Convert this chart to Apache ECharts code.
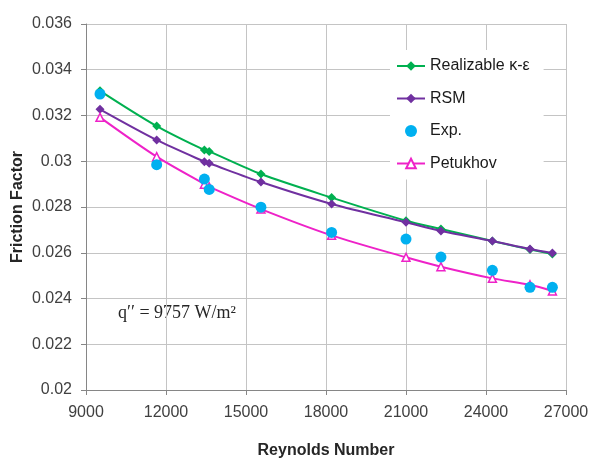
<!DOCTYPE html>
<html>
<head>
<meta charset="utf-8">
<script src="https://cdn.jsdelivr.net/npm/echarts@6/dist/echarts.min.js"></script>
<style>html,body{margin:0;padding:0;background:#fff;}#c{width:590px;height:459px;}</style>
</head>
<body>
<div id="c"></div>
<script>
// ---- data ----
const reynolds = [9525, 11650, 13440, 13620, 15560, 18210, 21000, 22310, 24240, 25650, 26490];
const realizable = [0.03308, 0.03154, 0.03049, 0.03043, 0.02944, 0.02841, 0.02740, 0.02704, 0.02651, 0.02614, 0.02594];
const rsm        = [0.03227, 0.03093, 0.02998, 0.02991, 0.02909, 0.02813, 0.02733, 0.02695, 0.02651, 0.02616, 0.02599];
const exp        = [0.03294, 0.02985, 0.02922, 0.02877, 0.02799, 0.02689, 0.02660, 0.02581, 0.02523, 0.02449, 0.02449];
const petukhov   = [0.03192, 0.03020, 0.02900, 0.02888, 0.02791, 0.02676, 0.02580, 0.02539, 0.02488, 0.02460, 0.02433];
const seriesNames = ['Realizable κ-ε', 'RSM', 'Exp.', 'Petukhov'];
const xAxisTicks = { min: 9000, max: 27000, interval: 3000 };
const yAxisTicks = { min: 0.02, max: 0.036, interval: 0.002 };
const annotationText = 'q′′ = 9757 W/m²';

const pairs = ys => reynolds.map((x, i) => [x, ys[i]]);

const chart = echarts.init(document.getElementById('c'));
const labelColor = '#404040';
chart.setOption({
  animation: false,
  backgroundColor: '#fff',
  textStyle: { fontFamily: 'Liberation Sans, Arial, sans-serif' },
  grid: { left: 86, right: 24, top: 24, bottom: 69, containLabel: false, outerBoundsMode: 'none' },
  legend: {
    orient: 'vertical',
    left: 390, top: 50,
    padding: [8, 14, 8, 6],
    itemGap: 16.5,
    itemWidth: 28, itemHeight: 12,
    backgroundColor: '#fff',
    textStyle: { fontSize: 16, color: '#1a1a1a', fontFamily: 'Liberation Sans' },
    data: seriesNames
  },
  xAxis: {
    type: 'value',
    min: xAxisTicks.min, max: xAxisTicks.max, interval: xAxisTicks.interval,
    name: 'Reynolds Number', nameLocation: 'middle', nameGap: 53, nameMoveOverlap: false,
    nameTextStyle: { fontSize: 16, fontWeight: 'bold', color: '#262626' },
    axisLine: { lineStyle: { color: '#868686', width: 1 } },
    axisTick: { show: true, length: 5, lineStyle: { color: '#868686' } },
    axisLabel: { fontSize: 16, color: labelColor, margin: 15, formatter: v => String(v) },
    splitLine: { show: true, lineStyle: { color: '#c4c4c4', width: 1 } }
  },
  yAxis: {
    type: 'value',
    min: yAxisTicks.min, max: yAxisTicks.max, interval: yAxisTicks.interval,
    name: 'Friction Factor', nameLocation: 'middle', nameGap: 60, nameRotate: 90, nameMoveOverlap: false,
    nameTextStyle: { fontSize: 16, fontWeight: 'bold', color: '#262626' },
    axisLine: { show: true, lineStyle: { color: '#868686', width: 1 } },
    axisTick: { show: true, length: 5, lineStyle: { color: '#868686' } },
    axisLabel: { fontSize: 16, color: labelColor, margin: 14, formatter: v => String(+v.toFixed(3)) },
    splitLine: { show: true, lineStyle: { color: '#c4c4c4', width: 1 } }
  },
  graphic: [{
    type: 'group', left: 105, top: 294, z: 1,
    children: [
      { type: 'rect', shape: { x: 0, y: 0, width: 163, height: 59 }, style: { fill: '#fff' } },
      { type: 'text', x: 72, y: 19, style: { text: annotationText, fill: '#262626', font: '18px "Liberation Serif", serif', align: 'center', verticalAlign: 'middle' } }
    ]
  }],
  series: [
    {
      name: seriesNames[0], type: 'line', data: pairs(realizable), smooth: 0.3,
      symbol: 'diamond', symbolSize: 9, z: 2,
      lineStyle: { color: '#00b050', width: 2 },
      itemStyle: { color: '#00b050' }
    },
    {
      name: seriesNames[1], type: 'line', data: pairs(rsm), smooth: 0.3,
      symbol: 'diamond', symbolSize: 9, z: 3,
      lineStyle: { color: '#7030a0', width: 2 },
      itemStyle: { color: '#7030a0' }
    },
    {
      name: seriesNames[2], type: 'scatter', data: pairs(exp),
      symbol: 'circle', symbolSize: 11, z: 5,
      itemStyle: { color: '#00b0f0', opacity: 1 }
    },
    {
      name: seriesNames[3], type: 'line', data: pairs(petukhov), smooth: 0.3,
      symbol: 'triangle', symbolSize: 8, z: 4,
      lineStyle: { color: '#ee22c8', width: 2 },
      itemStyle: { color: '#fff', borderColor: '#ee22c8', borderWidth: 1.5 }
    }
  ]
});
</script>
</body>
</html>
